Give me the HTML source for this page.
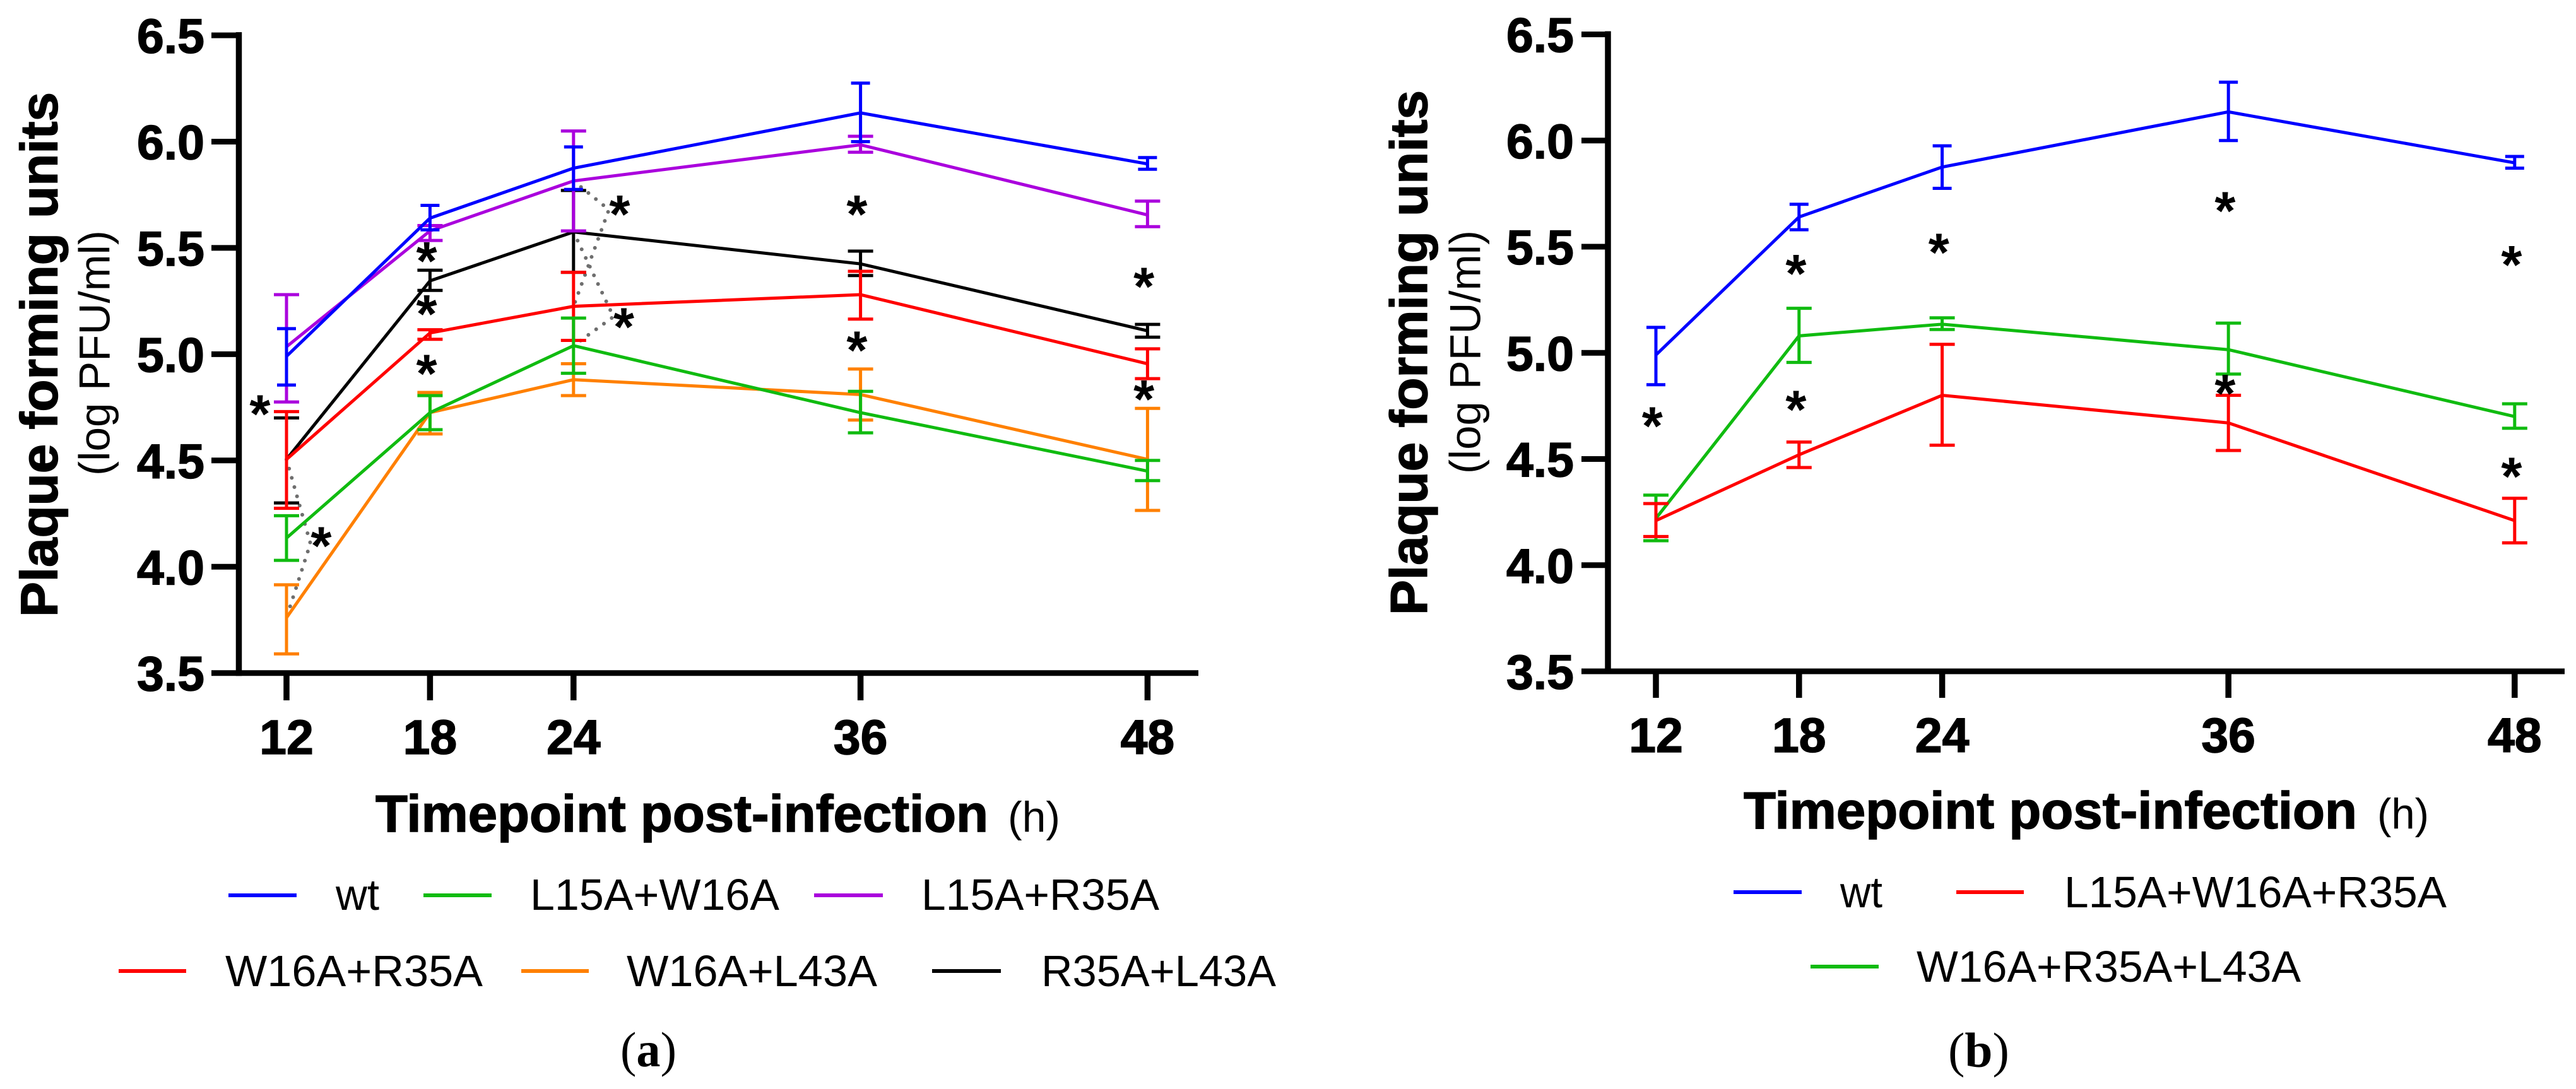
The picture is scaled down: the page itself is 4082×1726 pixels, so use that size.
<!DOCTYPE html>
<html lang="en">
<head>
<meta charset="utf-8">
<title>Plaque forming units over time</title>
<style>
html,body{margin:0;padding:0;background:#fff;}
svg{display:block;}
text{font-family:"Liberation Sans",Arial,sans-serif;fill:#000;}
.tick{font-weight:700;font-size:77px;stroke:#000;stroke-width:1.5px;}
.ytitle{font-weight:700;font-size:83px;stroke:#000;stroke-width:1.5px;}
.ysub{font-size:69px;}
.xtitle{font-weight:700;font-size:83px;stroke:#000;stroke-width:1.5px;}
.xsub{font-size:68px;}
.leg{font-size:70px;}
.panel{font-family:"Liberation Serif","Times New Roman",serif;font-size:78px;}
.star{font-weight:700;font-size:85px;text-anchor:middle;}
</style>
</head>
<body>
<svg id="figure" xmlns="http://www.w3.org/2000/svg" width="4082" height="1726" viewBox="0 0 4082 1726">
  <rect x="0" y="0" width="4082" height="1726" fill="#fff"/>

  <g id="panelA"></g>
  <g id="panelB"></g>

  <!-- panel a titles -->
  <text class="ytitle" transform="translate(90.5,978) rotate(-90)" textLength="832" lengthAdjust="spacingAndGlyphs">Plaque forming units</text>
  <text class="ysub" transform="translate(173.5,754) rotate(-90)" textLength="389" lengthAdjust="spacingAndGlyphs">(log PFU/ml)</text>
  <text class="xtitle" x="595" y="1318" textLength="971" lengthAdjust="spacingAndGlyphs">Timepoint post-infection</text>
  <text class="xsub" x="1597" y="1318" textLength="83" lengthAdjust="spacingAndGlyphs">(h)</text>

  <!-- panel a legend -->
  <g>
    <g>
      <rect x="362" y="1416" width="108" height="6" fill="#0000ff"/>
      <text class="leg" x="532" y="1442" textLength="69" lengthAdjust="spacingAndGlyphs">wt</text>
    </g>
    <g>
      <rect x="671" y="1416" width="108" height="6" fill="#10bb10"/>
      <text class="leg" x="840" y="1442" textLength="395" lengthAdjust="spacingAndGlyphs">L15A+W16A</text>
    </g>
    <g>
      <rect x="1290" y="1416" width="109" height="6" fill="#aa00dd"/>
      <text class="leg" x="1460" y="1442" textLength="377" lengthAdjust="spacingAndGlyphs">L15A+R35A</text>
    </g>
    <g>
      <rect x="188" y="1536" width="107" height="6" fill="#ff0000"/>
      <text class="leg" x="357" y="1563" textLength="408" lengthAdjust="spacingAndGlyphs">W16A+R35A</text>
    </g>
    <g>
      <rect x="826" y="1536" width="107" height="6" fill="#ff8000"/>
      <text class="leg" x="993" y="1563" textLength="397" lengthAdjust="spacingAndGlyphs">W16A+L43A</text>
    </g>
    <g>
      <rect x="1477" y="1536" width="109" height="6" fill="#000"/>
      <text class="leg" x="1650" y="1563" textLength="372" lengthAdjust="spacingAndGlyphs">R35A+L43A</text>
    </g>
  </g>
  <text class="panel" x="983" y="1690" textLength="89" lengthAdjust="spacingAndGlyphs">(<tspan font-weight="700">a</tspan>)</text>

  <!-- panel b titles -->
  <text class="ytitle" transform="translate(2261,975) rotate(-90)" textLength="832" lengthAdjust="spacingAndGlyphs">Plaque forming units</text>
  <text class="ysub" transform="translate(2345.5,751) rotate(-90)" textLength="386" lengthAdjust="spacingAndGlyphs">(log PFU/ml)</text>
  <text class="xtitle" x="2763" y="1313" textLength="972" lengthAdjust="spacingAndGlyphs">Timepoint post-infection</text>
  <text class="xsub" x="3767" y="1313" textLength="82" lengthAdjust="spacingAndGlyphs">(h)</text>

  <!-- panel b legend -->
  <g>
    <g>
      <rect x="2747" y="1411" width="108" height="6" fill="#0000ff"/>
      <text class="leg" x="2916" y="1438" textLength="67" lengthAdjust="spacingAndGlyphs">wt</text>
    </g>
    <g>
      <rect x="3100" y="1411" width="107" height="6" fill="#ff0000"/>
      <text class="leg" x="3271" y="1438" textLength="606" lengthAdjust="spacingAndGlyphs">L15A+W16A+R35A</text>
    </g>
    <g>
      <rect x="2869" y="1529" width="108" height="6" fill="#10bb10"/>
      <text class="leg" x="3037" y="1556" textLength="609" lengthAdjust="spacingAndGlyphs">W16A+R35A+L43A</text>
    </g>
  </g>
  <text class="panel" x="3087" y="1691" textLength="97" lengthAdjust="spacingAndGlyphs">(<tspan font-weight="700">b</tspan>)</text>
</svg>

<script>
// ---------- shared axis data ----------
const hours = [12, 18, 24, 36, 48];
const yTickValues = [3.5, 4.0, 4.5, 5.0, 5.5, 6.0, 6.5];
const yTickLabels = ['3.5', '4.0', '4.5', '5.0', '5.5', '6.0', '6.5'];
const xTickLabels = ['12', '18', '24', '36', '48'];

// ---------- panel a values ----------
const aWtMean     = [4.99, 5.64, 5.875, 6.135, 5.895];
const aWtUpper    = [5.12, 5.70, 5.975, 6.275, 5.925];
const aWtLower    = [4.855, 5.585, 5.775, 6.00, 5.87];

const aL15W16Mean  = [4.135, 4.725, 5.04, 4.725, 4.45];
const aL15W16Upper = [4.24, 4.805, 5.17, 4.825, 4.50];
const aL15W16Lower = [4.03, 4.645, 4.91, 4.63, 4.405];

const aL15R35Mean  = [5.035, 5.58, 5.815, 5.985, 5.655];
const aL15R35Upper = [5.28, 5.605, 6.05, 6.025, 5.72];
const aL15R35Lower = [4.775, 5.535, 5.58, 5.95, 5.60];

const aW16R35Mean  = [4.505, 5.10, 5.225, 5.28, 4.955];
const aW16R35Upper = [4.73, 5.115, 5.385, 5.39, 5.025];
const aW16R35Lower = [4.275, 5.07, 5.065, 5.165, 4.885];

const aW16L43Mean  = [3.76, 4.725, 4.88, 4.81, 4.505];
const aW16L43Upper = [3.915, 4.82, 4.955, 4.93, 4.745];
const aW16L43Lower = [3.59, 4.625, 4.805, 4.69, 4.265];

const aR35L43Mean  = [4.505, 5.345, 5.575, 5.425, 5.11];
const aR35L43Upper = [4.70, 5.395, 5.77, 5.485, 5.14];
const aR35L43Lower = [4.30, 5.30, 5.385, 5.37, 5.08];

const aStarHours  = [10.89, 13.45, 17.86, 17.86, 17.86, 25.93, 26.1, 35.85, 35.85, 47.85, 47.85];
const aStarValues = [4.75, 4.13, 5.47, 5.22, 4.94, 5.69, 5.16, 5.69, 5.05, 5.35, 4.82];

// dotted significance brackets: start, apex, end in (hour, value)
const aBracketHours  = [[12, 13.0, 12], [24, 25.48, 24], [24, 25.67, 24]];
const aBracketValues = [[4.505, 4.11, 3.76], [5.815, 5.68, 5.225], [5.575, 5.176, 5.04]];

// ---------- panel b values ----------
const bWtMean  = [4.99, 5.64, 5.875, 6.135, 5.895];
const bWtUpper = [5.12, 5.70, 5.975, 6.275, 5.925];
const bWtLower = [4.85, 5.58, 5.775, 6.00, 5.87];

const bTripleGreenMean  = [4.22, 5.08, 5.135, 5.015, 4.70];
const bTripleGreenUpper = [4.33, 5.21, 5.165, 5.14, 4.76];
const bTripleGreenLower = [4.115, 4.955, 5.11, 4.90, 4.645];

const bTripleRedMean  = [4.21, 4.52, 4.80, 4.67, 4.21];
const bTripleRedUpper = [4.29, 4.58, 5.04, 4.80, 4.315];
const bTripleRedLower = [4.135, 4.46, 4.565, 4.54, 4.105];

const bStarHours  = [11.85, 17.87, 17.87, 23.86, 35.86, 35.86, 47.87, 47.87];
const bStarValues = [4.687, 5.405, 4.765, 5.505, 5.70, 4.84, 5.447, 4.45];

// ---------- colours ----------
const BLUE = '#0000ff', GREEN = '#10bb10', PURPLE = '#aa00dd',
      RED = '#ff0000', ORANGE = '#ff8000', BLACK = '#000000';

const NS = 'http://www.w3.org/2000/svg';
function make(parent, tag, props) {
  const el = document.createElementNS(NS, tag);
  for (const k in props) el.setAttribute(k, props[k]);
  parent.appendChild(el);
  return el;
}

function drawAxes(g, prefix, x, y, axisX, leftEnd, rightEnd, labelEndX, tickLabelBaseline, tickBottom) {
  const baseY = y(3.5);
  const yLine = make(g, 'line', {x1: axisX, x2: axisX, y1: y(6.5) - 5, y2: baseY + 4.5, stroke: '#000', 'stroke-width': 9.5});
  
  
  const xLine = make(g, 'line', {x1: axisX, x2: rightEnd, y1: baseY, y2: baseY, stroke: '#000', 'stroke-width': 9});
  
  

  yTickValues.forEach((v, i) => {
    const t = make(g, 'line', {x1: leftEnd, x2: axisX, y1: y(v), y2: y(v), stroke: '#000', 'stroke-width': 9});
    
    
    const l = make(g, 'text', {x: labelEndX, y: y(v) + 28, 'text-anchor': 'end', class: 'tick'});
    
    
    l.textContent = yTickLabels[i];
  });

  hours.forEach((h, i) => {
    const t = make(g, 'line', {x1: x(h), x2: x(h), y1: baseY, y2: tickBottom, stroke: '#000', 'stroke-width': 9.5});
    
    
    const l = make(g, 'text', {x: x(h), y: tickLabelBaseline, 'text-anchor': 'middle', class: 'tick'});
    
    
    l.textContent = xTickLabels[i];
  });
}

function drawSeries(g, name, color, mean, upper, lower, capHalf, x, y) {
  const s = make(g, 'g', {});
  
  
  const pts = hours.map((h, i) => x(h) + ',' + y(mean[i])).join(' ');
  const line = make(s, 'polyline', {points: pts, fill: 'none', stroke: color, 'stroke-width': 5, 'stroke-linejoin': 'miter'});
  
  
  hours.forEach((h, i) => {
    const bar = make(s, 'path', {
      d: 'M' + (x(h) - capHalf) + ' ' + y(upper[i]) + 'H' + (x(h) + capHalf) +
         'M' + x(h) + ' ' + y(upper[i]) + 'V' + y(lower[i]) +
         'M' + (x(h) - capHalf) + ' ' + y(lower[i]) + 'H' + (x(h) + capHalf),
      fill: 'none', stroke: color, 'stroke-width': 5
    });
    
    
  });
}

function drawStars(g, prefix, starHours, starValues, x, y) {
  starHours.forEach((h, i) => {
    // glyph centre sits a little above the baseline
    const t = make(g, 'text', {x: x(h), y: y(starValues[i]) + 40, class: 'star'});
    
    
    t.textContent = '*';
  });
}

function drawBrackets(g, prefix, bHours, bValues, x, y) {
  bHours.forEach((hs, i) => {
    const pts = hs.map((h, j) => x(h) + ',' + y(bValues[i][j])).join(' ');
    const p = make(g, 'polyline', {points: pts, fill: 'none', stroke: '#6e6e6e', 'stroke-width': 6,
      'stroke-linecap': 'round', 'stroke-dasharray': '0 15.2'});
    
    
  });
}

// ---------- panel a ----------
const xA = h => 454 + (h - 12) * 37.9;
const yA = v => 56 + (6.5 - v) * 336.9;
const gA = document.getElementById('panelA');
drawBrackets(gA, 'panel-a', aBracketHours, aBracketValues, xA, yA);
drawSeries(gA, 'w16a-l43a', ORANGE, aW16L43Mean, aW16L43Upper, aW16L43Lower, 20, xA, yA);
drawSeries(gA, 'r35a-l43a', BLACK, aR35L43Mean, aR35L43Upper, aR35L43Lower, 20, xA, yA);
drawSeries(gA, 'w16a-r35a', RED, aW16R35Mean, aW16R35Upper, aW16R35Lower, 20, xA, yA);
drawSeries(gA, 'l15a-w16a', GREEN, aL15W16Mean, aL15W16Upper, aL15W16Lower, 20, xA, yA);
drawSeries(gA, 'l15a-r35a', PURPLE, aL15R35Mean, aL15R35Upper, aL15R35Lower, 20, xA, yA);
drawSeries(gA, 'wt', BLUE, aWtMean, aWtUpper, aWtLower, 15, xA, yA);
drawAxes(gA, 'panel-a', xA, yA, 378.5, 335, 1899, 324, 1195, 1110);
drawStars(gA, 'panel-a', aStarHours, aStarValues, xA, yA);

// ---------- panel b ----------
const xB = h => 2624 + (h - 12) * 37.8;
const yB = v => 54.5 + (6.5 - v) * 336.5;
const gB = document.getElementById('panelB');
drawSeries(gB, 'w16a-r35a-l43a', GREEN, bTripleGreenMean, bTripleGreenUpper, bTripleGreenLower, 20, xB, yB);
drawSeries(gB, 'l15a-w16a-r35a', RED, bTripleRedMean, bTripleRedUpper, bTripleRedLower, 20, xB, yB);
drawSeries(gB, 'b-wt', BLUE, bWtMean, bWtUpper, bWtLower, 15, xB, yB);
drawAxes(gB, 'panel-b', xB, yB, 2548, 2506, 4064, 2494, 1192, 1106);
drawStars(gB, 'panel-b', bStarHours, bStarValues, xB, yB);
</script>
</body>
</html>
